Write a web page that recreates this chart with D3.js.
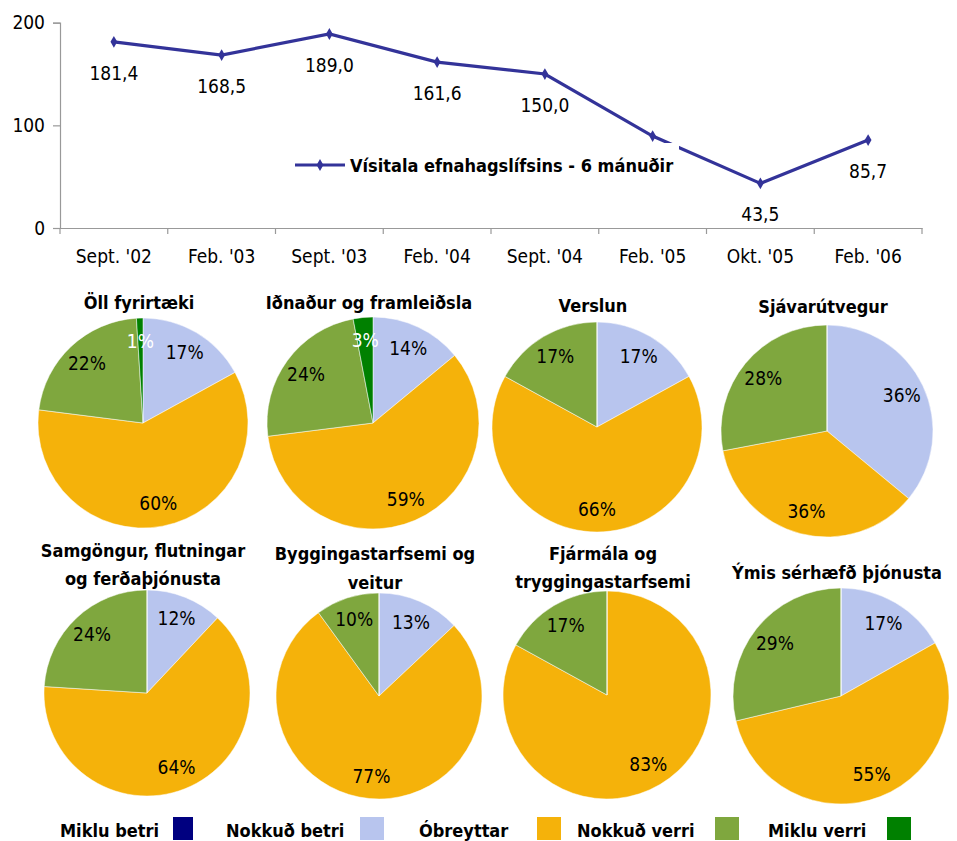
<!DOCTYPE html>
<html><head><meta charset="utf-8">
<script src="https://cdn.jsdelivr.net/npm/d3@7/dist/d3.min.js"></script>
<style>
html,body{margin:0;padding:0;background:#fff;}
svg text{font-family:"Liberation Sans Narrow","Arial Narrow","DejaVu Sans Condensed",sans-serif;}
</style></head>
<body><svg id="c" width="957" height="841"></svg>
<script>
// ---- data ----
const categories = ["Sept. '02","Feb. '03","Sept. '03","Feb. '04","Sept. '04","Feb. '05","Okt. '05","Feb. '06"];
const indexValues = [181.4,168.5,189.0,161.6,150.0,89.6,43.5,85.7];
const indexLabels = ["181,4","168,5","189,0","161,6","150,0","","43,5","85,7"];
const seriesName = "Vísitala efnahagslífsins - 6 mánuðir";
const yTicks = [0,100,200];

const answerKeys = ["Miklu betri","Nokkuð betri","Óbreyttar","Nokkuð verri","Miklu verri"];
const answerColors = ["#000080","#B8C5EE","#F5B20A","#7FA73E","#008000"];
const pieTitles = [
  ["Öll fyrirtæki"],
  ["Iðnaður og framleiðsla"],
  ["Verslun"],
  ["Sjávarútvegur"],
  ["Samgöngur, flutningar","og ferðaþjónusta"],
  ["Byggingastarfsemi og","veitur"],
  ["Fjármála og","tryggingastarfsemi"],
  ["Ýmis sérhæfð þjónusta"]
];
const pieValues = [
  [0,17,60,22,1],
  [0,14,59,24,3],
  [0,17,66,17,0],
  [0,36,36,28,0],
  [0,12,64,24,0],
  [0,13,77,10,0],
  [0,0,83,17,0],
  [0,17,55,29,0]
];

// ---- layout ----
const svg = d3.select("#c");
const FS = 19, FB = 18;
const x = d3.scaleBand().domain(categories).range([60,922]);
const y = d3.scaleLinear().domain([0,200]).range([228,22.7]);

const gx = svg.append("g").attr("transform","translate(0,228)")
  .call(d3.axisBottom(x).tickSize(0).tickPadding(22));
gx.select(".domain").attr("stroke","#999").attr("stroke-width",1.2);
gx.selectAll(".tick text").attr("font-size",FS).attr("fill","#000");
svg.append("g").selectAll("line").data(d3.range(categories.length+1)).join("line")
  .attr("x1",i=>60+i*x.step()).attr("x2",i=>60+i*x.step())
  .attr("y1",228).attr("y2",234).attr("stroke","#999").attr("stroke-width",1.2);

const gy = svg.append("g").attr("transform","translate(60,0)")
  .call(d3.axisLeft(y).tickValues(yTicks).tickSize(7).tickPadding(8));
gy.select(".domain").attr("stroke","#999").attr("stroke-width",1.2);
gy.selectAll(".tick line").attr("stroke","#999").attr("stroke-width",1.2);
gy.selectAll(".tick text").attr("font-size",FS).attr("fill","#000");

const cx = d => x(d) + x.bandwidth()/2;
const line = d3.line().x((d,i)=>cx(categories[i])).y(d=>y(d));
svg.append("path").datum(indexValues).attr("d",line)
  .attr("fill","none").attr("stroke","#333399").attr("stroke-width",3.2);
svg.append("g").selectAll("path").data(indexValues).join("path")
  .attr("d",d3.symbol(d3.symbolDiamond,40))
  .attr("transform",(d,i)=>`translate(${cx(categories[i])},${y(d)})`)
  .attr("fill","#333399");

const lg = svg.append("g");
indexValues.forEach((v,i)=>{
  if (!indexLabels[i]) return;
  const px = cx(categories[i]), py = y(v)+38;
  if (i===6) lg.append("rect").attr("x",px-19).attr("y",py-18).attr("width",38).attr("height",24).attr("fill","#fff");
  lg.append("text").attr("x",px).attr("y",py).attr("text-anchor","middle")
    .attr("font-size",FS).attr("fill","#000").text(indexLabels[i]);
});

const leg = svg.append("g");
leg.append("rect").attr("x",288).attr("y",143).attr("width",391).attr("height",44).attr("fill","#fff");
leg.append("line").attr("x1",295).attr("x2",345).attr("y1",165).attr("y2",165)
  .attr("stroke","#333399").attr("stroke-width",3.2);
leg.append("path").attr("d",d3.symbol(d3.symbolDiamond,40)).attr("transform","translate(320,165)").attr("fill","#333399");
leg.append("text").attr("x",350).attr("y",172).attr("font-size",FB).attr("font-weight","bold").text(seriesName);

// ---- pies ----
const pieCenters = [[143,423],[373,423],[597,427],[827,431],[147,693],[379,696],[607,695],[841,696]];
const radii = [105,106,105,106,103,103,104,108];
const titleY = [[309],[309],[312],[313],[557,585],[560,589],[560,588],[579]];
const pie = d3.pie().sort(null).value(d=>d);
pieValues.forEach((vals,k)=>{
  const [pcx,pcy] = pieCenters[k], r = radii[k];
  const g = svg.append("g").attr("transform",`translate(${pcx},${pcy})`);
  const arc = d3.arc().innerRadius(0).outerRadius(r);
  const arcs = pie(vals);
  g.selectAll("path").data(arcs).join("path").attr("d",arc)
    .attr("fill",(d,i)=>answerColors[i]).attr("stroke","#fff").attr("stroke-width",0.5);
  const la = d3.arc().innerRadius(r*0.78).outerRadius(r*0.78);
  g.selectAll("text").data(arcs.filter(d=>d.data>0)).join("text")
    .attr("transform",d=>`translate(${la.centroid(d)})`)
    .attr("text-anchor","middle").attr("dy","0.35em").attr("font-size",FS)
    .attr("fill",d=>d.index===4?"#fff":"#000").text(d=>d.data+"%");
  pieTitles[k].forEach((t,j)=>{
    svg.append("text").attr("x",pcx-4).attr("y",titleY[k][j]).attr("text-anchor","middle")
      .attr("font-size",FB).attr("font-weight","bold").text(t);
  });
});

// ---- bottom legend ----
const legX = [[60,173],[226,360],[419,537],[577,715],[768,887]];
const bl = svg.append("g");
answerKeys.forEach((k,i)=>{
  bl.append("text").attr("x",legX[i][0]).attr("y",837).attr("font-size",FB).attr("font-weight","bold").text(k);
  bl.append("rect").attr("x",legX[i][1]).attr("y",817).attr("width",i===0?20:24).attr("height",23).attr("fill",answerColors[i]);
});
</script></body></html>
